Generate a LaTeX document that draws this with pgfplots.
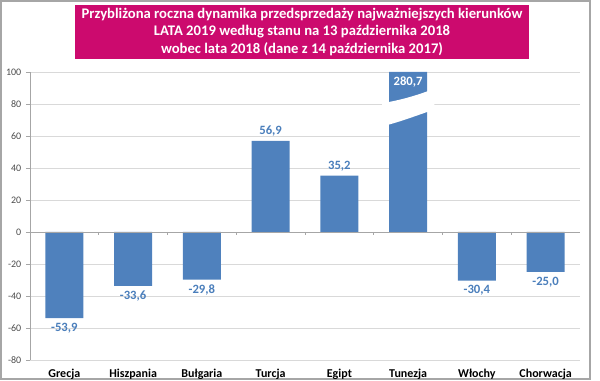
\documentclass[border=0pt]{standalone}
\usepackage{pgfplots}
\pgfplotsset{compat=1.18}
\usepackage{fontspec}
\setmainfont{Carlito}
\definecolor{barblue}{HTML}{4F81BD}
\definecolor{lblblue}{HTML}{4A7EBB}
\definecolor{titlepink}{HTML}{CC0A6E}
\definecolor{gridgray}{HTML}{D9D9D9}
\definecolor{axgray}{HTML}{A6A6A6}
\begin{document}
\begin{tikzpicture}
\useasboundingbox (0pt,0pt) rectangle (450pt,285.75pt);
\draw[color=axgray,line width=1.2pt] (0.75pt,1.5pt) rectangle (442.5pt,285pt);
\node[fill=titlepink,text=white,font=\bfseries\fontsize{11}{12.9}\selectfont,align=center,minimum width=341pt,minimum height=41pt,inner sep=1pt] at (226.5pt,261.75pt)
 {Przybliżona roczna dynamika przedsprzedaży najważniejszych kierunków\\LATA 2019 według stanu na 13 października 2018\\wobec lata 2018 (dane z 14 października 2017)};
\begin{axis}[
  at={(22.5pt,15.75pt)}, anchor=south west,
  scale only axis, width=412.5pt, height=216pt,
  xmin=-0.5, xmax=7.5, ymin=-80, ymax=100,
  ytick={-80,-60,...,100},
  xtick={0,...,7},
  xticklabels={Grecja,Hiszpania,Bułgaria,Turcja,Egipt,Tunezja,Włochy,Chorwacja},
  x tick label style={font=\bfseries\fontsize{9}{10}\selectfont,text=black,yshift=-0.5pt},
  y tick label style={font=\fontsize{7.5}{8}\selectfont,text=black!70},
  /pgf/number format/assume math mode=true,
  major x tick style={draw=none},
  ytick style={draw=axgray},
  tick align=outside, major tick length=3pt,
  ymajorgrids, grid style={gridgray,line width=0.6pt},
  axis x line*=bottom,
  x axis line style={draw=none},
  axis y line*=left,
  y axis line style={draw=axgray,-},
  clip=false,
]
\addplot[ybar, bar width=28.5pt, fill=barblue, draw=none, bar shift=0pt]
 coordinates {(0,-53.9) (1,-33.6) (2,-29.8) (3,56.9) (4,35.2) (5,100) (6,-30.4) (7,-25.0)};
\draw[axgray,line width=0.6pt] (axis cs:-0.5,0) -- (axis cs:7.5,0);
\pgfplotsinvokeforeach{0.5,1.5,2.5,3.5,4.5,5.5,6.5}{\draw[axgray,line width=0.6pt] (axis cs:#1,0) -- (axis cs:#1,-1.8);}
% break in Tunezja bar
\fill[white] (axis cs:4.62,66) .. controls (axis cs:4.9,69) and (axis cs:5.1,72.5) .. (axis cs:5.38,76.5)
  -- (axis cs:5.38,89.5) .. controls (axis cs:5.1,85) and (axis cs:4.9,82.5) .. (axis cs:4.62,80.5) -- cycle;
\begin{scope}[font=\bfseries\fontsize{9.5}{10}\selectfont, text=lblblue]
\node[below] at (axis cs:0,-53.9) {-53,9};
\node[below] at (axis cs:1,-33.6) {-33,6};
\node[below] at (axis cs:2,-29.8) {-29,8};
\node[above] at (axis cs:3,56.9) {56,9};
\node[above] at (axis cs:4,35.2) {35,2};
\node[below] at (axis cs:6,-30.4) {-30,4};
\node[below] at (axis cs:7,-25.0) {-25,0};
\node[below,text=white] at (axis cs:5,100) {280,7};
\end{scope}
\end{axis}
\end{tikzpicture}
\end{document}
